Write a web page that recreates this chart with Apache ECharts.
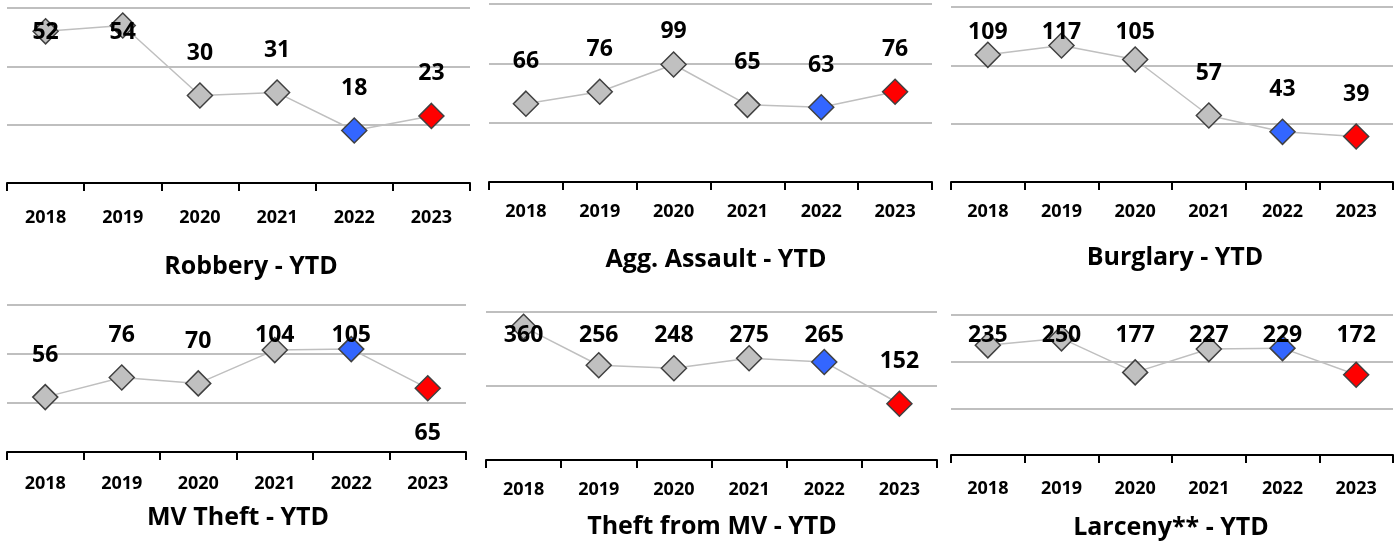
<!DOCTYPE html>
<html>
<head>
<meta charset="utf-8">
<script src="https://cdn.jsdelivr.net/npm/echarts@6/dist/echarts.min.js"></script>
<style>
    html, body { margin: 0; padding: 0; background: #fff; }
    #chart { width: 1399px; height: 541px; }
</style>
</head>
<body>
<div id="chart"></div>
<script>
const years = ['2018', '2019', '2020', '2021', '2022', '2023'];
const robbery = [52, 54, 30, 31, 18, 23];
const aggAssault = [66, 76, 99, 65, 63, 76];
const burglary = [109, 117, 105, 57, 43, 39];
const mvTheft = [56, 76, 70, 104, 105, 65];
const theftFromMv = [360, 256, 248, 275, 265, 152];
const larceny = [235, 250, 177, 227, 229, 172];
const titles = ['Robbery - YTD', 'Agg. Assault - YTD', 'Burglary - YTD', 'MV Theft - YTD', 'Theft from MV - YTD', 'Larceny** - YTD'];
const yMax = [60, 150, 150, 150, 400, 300];
const yStep = [20, 50, 50, 50, 200, 100];

const seriesData = [robbery, aggAssault, burglary, mvTheft, theftFromMv, larceny];

// panel layout
const panels = [
    { grid: { left: 7, top: 8, width: 463, height: 175 }, labelMargin: 26, title: [251, 267], clampY: 32 },
    { grid: { left: 489, top: 4, width: 443, height: 178 }, labelMargin: 21, title: [716, 260], clampY: 31 },
    { grid: { left: 951, top: 7, width: 442, height: 175 }, labelMargin: 21, title: [1175, 258], clampY: 32 },
    { grid: { left: 7, top: 305, width: 459, height: 147 }, labelMargin: 23, title: [238, 518], clampY: 335 },
    { grid: { left: 486, top: 312, width: 451, height: 148 }, labelMargin: 21, title: [712, 527], clampY: 335 },
    { grid: { left: 951, top: 315, width: 442, height: 140 }, labelMargin: 25, title: [1171, 528], clampY: 335 },
];
// MV Theft 2023 label sits under its marker
const labelsBelow = { 3: [5] };

const GRAY = '#C0C0C0';
const BLUE = '#3366FF';
const RED = '#FF0000';
const FONT = '"Open Sans"';

function pointColor(j) {
    if (j === 4) return BLUE;
    if (j === 5) return RED;
    return GRAY;
}

const chart = echarts.init(document.getElementById('chart'), null, { renderer: 'canvas' });

function buildSeries(offsets) {
    return seriesData.map((vals, i) => ({
        type: 'line',
        xAxisIndex: i,
        yAxisIndex: i,
        symbol: 'diamond',
        symbolSize: 25,
        lineStyle: { color: '#BFBFBF', width: 1.5 },
        z: 3,
        data: vals.map((v, j) => ({
            value: v,
            itemStyle: { color: pointColor(j), borderColor: '#404040', borderWidth: 1.5 },
            label: {
                show: true,
                position: 'inside',
                offset: [0, offsets ? offsets[i][j] : -42],
                color: '#000',
                fontFamily: FONT,
                fontWeight: 'bold',
                fontSize: 23,
            },
        })),
    }));
}

chart.setOption({
    animation: false,
    backgroundColor: '#fff',
    grid: panels.map((p) => ({ ...p.grid, containLabel: false })),
    xAxis: panels.map((p, i) => ({
        type: 'category',
        gridIndex: i,
        data: years,
        boundaryGap: true,
        axisLine: { lineStyle: { color: '#000', width: 2 } },
        axisTick: { show: true, length: 8, lineStyle: { color: '#000', width: 2 } },
        axisLabel: {
            margin: p.labelMargin,
            color: '#000',
            fontFamily: FONT,
            fontWeight: 'bold',
            fontSize: 18,
        },
    })),
    yAxis: panels.map((p, i) => ({
        type: 'value',
        gridIndex: i,
        min: 0,
        max: yMax[i],
        interval: yStep[i],
        axisLine: { show: false },
        axisTick: { show: false },
        axisLabel: { show: false },
        splitLine: { lineStyle: { color: '#BFBFBF', width: 2 } },
    })),
    graphic: panels.map((p, i) => ({
        type: 'text',
        x: p.title[0],
        y: p.title[1],
        style: {
            text: titles[i],
            align: 'center',
            verticalAlign: 'middle',
            fill: '#000',
            font: 'bold 25px ' + FONT,
        },
    })),
    series: buildSeries(null),
});

// Excel keeps labels inside the plot area, so clamp them near the panel top
const offsets = seriesData.map((vals, i) => vals.map((v, j) => {
    const py = chart.convertToPixel({ seriesIndex: i }, [j, v])[1];
    if ((labelsBelow[i] || []).includes(j)) return 45;
    return Math.max(py - 42, panels[i].clampY) - py;
}));

chart.setOption({ series: buildSeries(offsets) });
</script>
</body>
</html>
